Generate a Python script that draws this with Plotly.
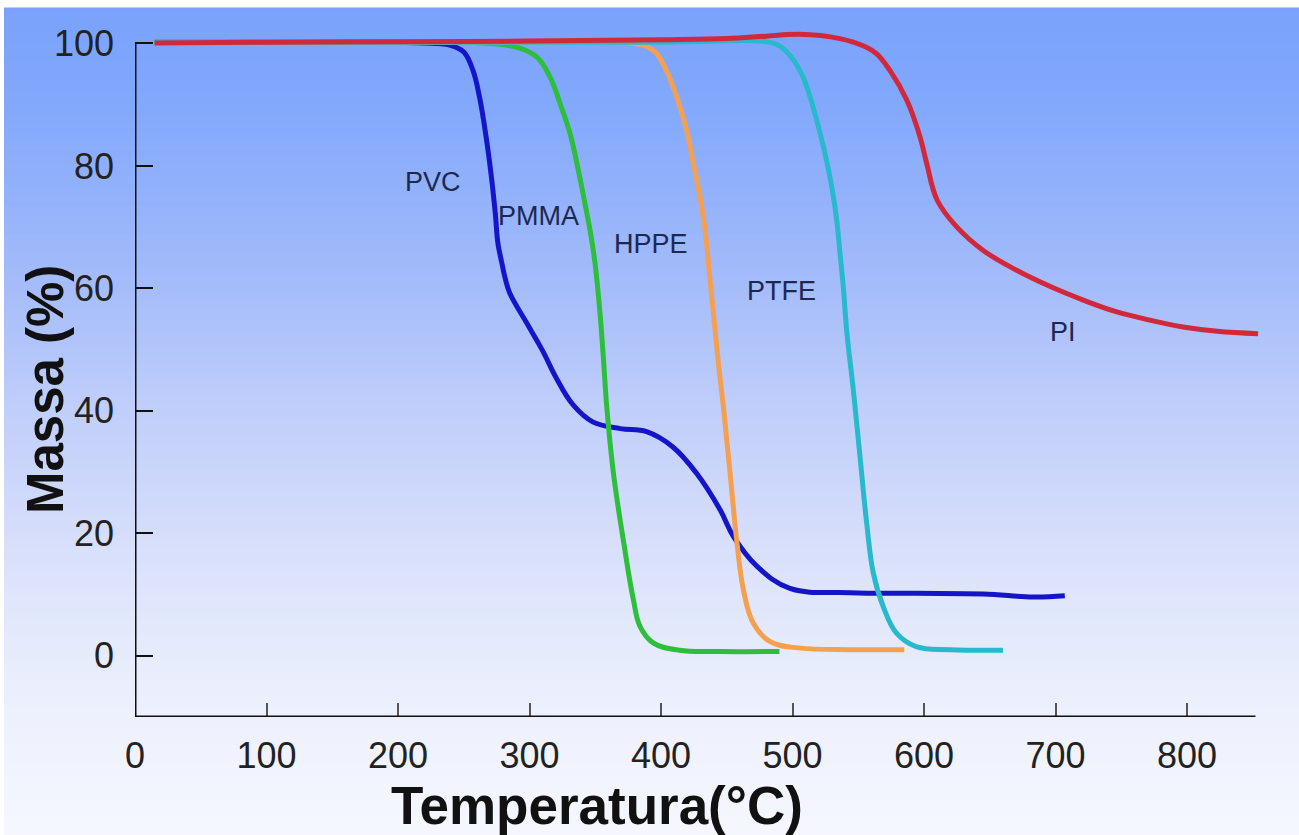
import plotly.graph_objects as go

# ---------------- data ----------------
pvc_x = [15, 100, 200, 230, 240, 250, 257, 262, 267, 271, 274, 276, 279, 281.4, 285, 298, 310, 320, 333, 348, 369, 389, 409, 427, 445, 455, 473, 498, 544, 594, 645, 683, 707]
pvc_y = [100.2, 100.2, 100.2, 100.0, 99.7, 98.6, 95.6, 91.2, 84.7, 78.2, 72.2, 67.3, 64.1, 61.7, 59.2, 54.3, 49.8, 45.5, 41.0, 38.2, 37.1, 36.6, 34.1, 29.8, 23.8, 19.5, 14.6, 11.0, 10.3, 10.2, 10.1, 9.6, 9.8]

pmma_x = [15, 200, 250, 262, 290, 305.5, 315.6, 323.2, 330.8, 337.1, 342.2, 346, 349.8, 353.6, 356.1, 358.7, 363.8, 371.3, 379, 384, 394, 414, 445, 490]
pmma_y = [100.2, 100.2, 100.2, 100.1, 99.4, 97.8, 94.5, 90.2, 85.3, 79.3, 73.8, 69.5, 64.1, 55.9, 48.8, 40.7, 29.8, 18.9, 9.1, 4.8, 2.1, 0.9, 0.7, 0.7]

hppe_x = [15, 300, 374, 394, 404, 412, 419.5, 424.6, 429.7, 433.5, 437.3, 441.1, 444, 447.4, 452.5, 457.5, 462.6, 470.2, 483, 506, 544, 585]
hppe_y = [100.2, 100.2, 100.2, 98.9, 95.6, 91.2, 85.8, 80.4, 74.9, 69.5, 61.3, 53.2, 47.0, 40.7, 29.8, 18.9, 10.8, 5.3, 2.3, 1.25, 1.0, 1.0]

ptfe_x = [15, 400, 480, 490, 500, 508, 513, 518.4, 524.7, 529.8, 533.6, 536.1, 538.6, 541.2, 546.2, 551.3, 556.4, 561.4, 569, 579, 594, 620, 660]
ptfe_y = [100.2, 100.2, 100.3, 99.6, 97.5, 94.5, 91.5, 87.4, 82.0, 76.6, 71.1, 65.7, 60.2, 53.0, 43.4, 32.5, 21.6, 13.5, 8.0, 3.7, 1.5, 1.0, 0.9]

pi_x = [15, 100, 200, 300, 400, 450, 480, 505, 536, 555, 564, 574, 587, 597, 602, 610, 625, 645, 670, 696, 721, 746, 772, 797, 823, 854]
pi_y = [100.1, 100.2, 100.3, 100.4, 100.6, 100.8, 101.2, 101.5, 100.8, 99.5, 98.3, 95.6, 90.7, 84.7, 80.4, 74.4, 70.0, 66.2, 63.0, 60.3, 58.1, 56.2, 54.8, 53.7, 53.0, 52.6]

series_names = ["PVC", "PMMA", "HPPE", "PTFE", "PI"]
series_colors = ["#1414c8", "#2dbe3c", "#f5a050", "#28b9cd", "#d2283c"]

label_text = ["PVC", "PMMA", "HPPE", "PTFE", "PI"]
label_x = [226.6, 306.5, 392.4, 491.3, 705.7]
label_y = [77.3, 71.9, 67.3, 59.5, 52.8]

x_ticks = [0, 100, 200, 300, 400, 500, 600, 700, 800]
y_ticks = [0, 20, 40, 60, 80, 100]

x_title = "Temperatura(°C)"
y_title = "Massa (%)"

# ---------------- layout geometry ----------------
FIG_W, FIG_H = 1299, 835
X_RANGE = [0, 860]
Y_RANGE = [-10, 104]
M_L, M_R, M_T, M_B = 135, 33, 18.5, 117.7
PLOT_W = FIG_W - M_L - M_R
PLOT_H = FIG_H - M_T - M_B

FONT = "Liberation Sans, Arial, sans-serif"


def px_to_paper_x(px):
    return (px - M_L) / PLOT_W


def px_to_paper_y(py):
    return (FIG_H - M_B - py) / PLOT_H


# background gradient stops (pixel row, rgb)
grad_stops = [
    (7, (122, 162, 252)),
    (100, (130, 168, 252)),
    (200, (148, 178, 251)),
    (300, (168, 190, 250)),
    (400, (190, 205, 250)),
    (500, (208, 217, 250)),
    (600, (224, 230, 251)),
    (700, (236, 240, 253)),
    (835, (246, 247, 254)),
]


def grad_color(py):
    for (p0, c0), (p1, c1) in zip(grad_stops[:-1], grad_stops[1:]):
        if p0 <= py <= p1:
            t = (py - p0) / (p1 - p0)
            return "rgb(%d,%d,%d)" % tuple(round(a + (b - a) * t) for a, b in zip(c0, c1))
    return "rgb(%d,%d,%d)" % grad_stops[-1][1]


shapes = []
step = 6
py = 7
while py < FIG_H:
    shapes.append(dict(
        type="rect", xref="paper", yref="paper", layer="below",
        x0=px_to_paper_x(4), x1=px_to_paper_x(FIG_W + 2),
        y0=px_to_paper_y(py), y1=px_to_paper_y(min(py + step + 1, FIG_H + 2)),
        line=dict(width=0), fillcolor=grad_color(py + step / 2),
    ))
    py += step

# axis lines (y axis ends at 100, x axis ends near 852)
shapes.append(dict(type="line", xref="x", yref="y", x0=0, x1=0, y0=Y_RANGE[0], y1=100,
                   line=dict(color="#111111", width=3), layer="above"))
shapes.append(dict(type="line", xref="x", yref="y", x0=0, x1=852, y0=Y_RANGE[0], y1=Y_RANGE[0],
                   line=dict(color="#111111", width=3), layer="above"))

fig = go.Figure()
all_x = [pvc_x, pmma_x, hppe_x, ptfe_x, pi_x]
all_y = [pvc_y, pmma_y, hppe_y, ptfe_y, pi_y]
for name, col, xs, ys in zip(series_names, series_colors, all_x, all_y):
    fig.add_trace(go.Scatter(
        x=xs, y=ys, name=name, mode="lines",
        line=dict(color=col, width=5, shape="spline", smoothing=1.1),
        showlegend=False, hoverinfo="skip",
    ))

annotations = []
for t, x, y in zip(label_text, label_x, label_y):
    annotations.append(dict(x=x, y=y, xref="x", yref="y", text=t, showarrow=False,
                            xanchor="center", yanchor="middle",
                            font=dict(family=FONT, size=27, color="#1c2850")))

annotations.append(dict(x=px_to_paper_x(597), y=px_to_paper_y(806), xref="paper", yref="paper",
                        xanchor="center", yanchor="middle",
                        text="<b>%s</b>" % x_title, showarrow=False,
                        font=dict(family=FONT, size=53, color="#111111")))
annotations.append(dict(x=px_to_paper_x(45), y=px_to_paper_y(390), xref="paper", yref="paper",
                        xanchor="center", yanchor="middle",
                        text="<b>%s</b>" % y_title, showarrow=False, textangle=-90,
                        font=dict(family=FONT, size=51, color="#111111")))

fig.update_layout(
    width=FIG_W, height=FIG_H,
    margin=dict(l=M_L, r=M_R, t=M_T, b=M_B, pad=0),
    paper_bgcolor="white", plot_bgcolor="rgba(0,0,0,0)",
    shapes=shapes, annotations=annotations,
    xaxis=dict(range=X_RANGE, showgrid=False, zeroline=False, showline=False,
               tickmode="array", tickvals=x_ticks, ticktext=[str(v) for v in x_ticks],
               ticks="inside", ticklen=14, tickwidth=1.5, tickcolor="#555555",
               ticklabelstandoff=14,
               tickfont=dict(family=FONT, size=36, color="#222222")),
    yaxis=dict(range=Y_RANGE, showgrid=False, zeroline=False, showline=False,
               tickmode="array", tickvals=y_ticks, ticktext=[str(v) for v in y_ticks],
               ticks="inside", ticklen=18, tickwidth=2, tickcolor="#111111",
               ticklabelstandoff=20,
               tickfont=dict(family=FONT, size=36, color="#222222")),
)

fig.write_html("out.html")
